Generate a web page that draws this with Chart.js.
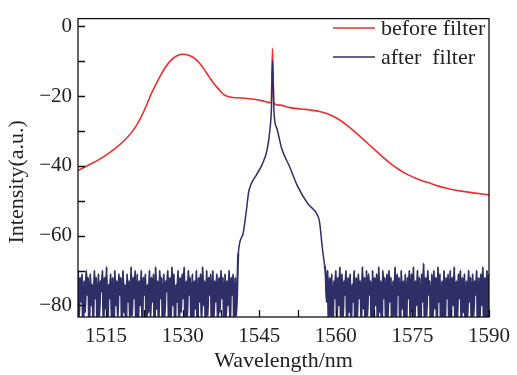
<!DOCTYPE html>
<html>
<head>
<meta charset="utf-8">
<script src="https://cdn.jsdelivr.net/npm/chart.js@4.4.1/dist/chart.umd.min.js"></script>
<style>
  html, body { margin: 0; padding: 0; background: #fff; }
  #wrap { width: 517px; height: 375px; }
</style>
</head>
<body>
<div id="wrap"><canvas id="spec" width="517" height="375"></canvas></div>
<script>
/* ── axis ticks ── */
const xTicks  = [1515, 1522.5, 1530, 1537.5, 1545, 1552.5, 1560, 1567.5, 1575, 1582.5, 1590];
const xLabels = [1515, 1530, 1545, 1560, 1575, 1590];
const yTicks  = [0, -10, -20, -30, -40, -50, -60, -70, -80];
const yLabels = [0, -20, -40, -60, -80];

/* ── before filter (ASE source) ── */
const redX = [1509.5, 1511.5, 1513.6, 1515.5, 1516.8, 1518.5, 1520.0, 1521.0, 1521.9, 1522.9,
              1523.8, 1524.8, 1525.7, 1526.6, 1527.6, 1528.7, 1529.9, 1531.2, 1532.6, 1533.9,
              1535.2, 1536.2, 1537.1, 1538.0, 1539.0, 1540.5, 1542.1, 1544.0, 1545.5, 1546.8,
              1547.35, 1547.6, 1547.85, 1549.0, 1551.0, 1553.2, 1555.0, 1557.0, 1558.6, 1560.1,
              1561.4, 1562.7, 1564.3, 1565.9, 1567.5, 1569.0, 1570.6, 1572.2, 1573.8, 1575.4,
              1577.0, 1578.5, 1580.1, 1581.7, 1583.3, 1584.9, 1587.3, 1590.0];
const redY = [-41.3, -39.8, -38.2, -36.4, -35.0, -32.8, -30.4, -28.3, -25.9, -22.7,
              -19.5, -16.6, -14.0, -11.8, -9.9, -8.6, -8.0, -8.3, -9.5, -11.7,
              -14.5, -16.6, -18.1, -19.5, -20.2, -20.5, -20.6, -20.9, -21.3, -21.8,
              -21.9, -6.3, -22.1, -22.6, -23.3, -23.7, -24.0, -24.5, -25.2, -26.3,
              -27.5, -29.0, -31.0, -33.1, -35.2, -37.2, -39.2, -40.9, -42.3, -43.4,
              -44.3, -45.0, -45.8, -46.4, -46.9, -47.3, -47.8, -48.3];

/* ── after filter: noise floor (sampled every 0.2 nm) + filtered line ── */
const noiseStep = 0.2;
const noiseLeftStart = 1509.5;
const noiseLeft = [
  -70,-84,-72,-79,-71,-90,-73,-82,-70,-77,-72,-88,-71,-80,-74,-86,-70,-78,-72,-91,
  -71,-83,-73,-76,-70,-87,-72,-81,-69,-89,-74,-78,-71,-85,-72,-92,-70,-80,-73,-84,
  -71,-77,-72,-88,-70,-82,-74,-90,-71,-79,-73,-86,-69,-83,-72,-78,-70,-91,-71,-85,
  -73,-80,-70,-87,-72,-77,-71,-89,-74,-82,-70,-84,-72,-79,-71,-92,-69,-81,-73,-86,
  -70,-78,-72,-90,-71,-83,-73,-76,-70,-88,-72,-85,-69,-80,-71,-91,-74,-79,-70,-87,
  -72,-82,-71,-78,-69,-89,-73,-84,-70,-77,-72,-90,-71,-86,-73,-81,-70,-92,-72,-79,
  -71,-85,-69,-80,-73,-88,-70,-83,-72,-77,-71,-91,-70,-84,-73,-79,-71,-87,-72,-82,
  -70,-78,-72,-89,-71,-84,-73,-80,-70,-86,-72,-77,-71,-90,-72,-83];
const coreX = [1540.9, 1541.8, 1542.5, 1542.9, 1543.4, 1544.4, 1545.6, 1546.6, 1547.1, 1547.4,
               1547.6, 1547.9, 1548.5, 1549.4, 1551.0, 1552.4, 1554.5, 1556.4, 1556.8, 1557.4, 1557.8];
const coreY = [-65.0, -59.6, -52.5, -47.7, -45.2, -42.7, -39.5, -35.0, -29.5, -23.1,
               -9.9, -24.9, -29.5, -35.0, -40.4, -45.5, -50.8, -54.1, -56.0, -64.1, -68.5];
const noiseRightStart = 1558.0;
const noiseRight = [
  -71,-79,-70,-88,-72,-83,-71,-91,-73,-78,-70,-85,-72,-80,-69,-89,-71,-84,-73,-77,
  -70,-90,-72,-82,-71,-87,-74,-79,-70,-92,-72,-84,-71,-78,-73,-86,-69,-81,-72,-89,
  -70,-83,-71,-77,-73,-90,-70,-85,-72,-80,-71,-88,-69,-82,-73,-91,-70,-78,-72,-86,
  -71,-84,-70,-79,-72,-89,-73,-83,-69,-87,-71,-77,-72,-92,-70,-81,-73,-85,-71,-90,
  -72,-78,-70,-86,-71,-82,-69,-89,-73,-80,-70,-84,-72,-91,-71,-79,-68,-87,-72,-83,
  -70,-77,-73,-90,-71,-85,-70,-81,-72,-88,-69,-79,-71,-92,-73,-84,-70,-86,-72,-78,
  -71,-89,-70,-83,-72,-80,-69,-91,-73,-85,-71,-78,-70,-87,-72,-82,-71,-90,-73,-84,
  -70,-79,-72,-88,-71,-83,-73,-77,-70,-91,-72,-85,-71,-80,-69,-89,-72,-84,-70,-86,
  -71];

const RED = '#ec2e2c', BLUE = '#2f2e66';
const SERIF = '"Liberation Serif", "DejaVu Serif", serif';
const coreFrom = coreX[0], coreTo = coreX[coreX.length - 1];

const redPts = redX.map((x, i) => ({ x, y: redY[i] }));
const bluePts = []
  .concat(noiseLeft.map((v, i) => ({ x: noiseLeftStart + i * noiseStep, y: v })))
  .concat(coreX.map((x, i) => ({ x, y: coreY[i] })))
  .concat(noiseRight.map((v, i) => ({ x: noiseRightStart + i * noiseStep, y: v })));

// box, inward ticks, legend and axis titles
const frame = {
  id: 'frame',
  afterDraw(chart) {
    const { ctx, chartArea: a, scales: { x, y } } = chart;
    ctx.save();
    ctx.strokeStyle = '#111';
    ctx.lineWidth = 1.3;
    ctx.strokeRect(a.left, a.top, a.right - a.left, a.bottom - a.top);
    ctx.beginPath();
    xTicks.forEach(v => {
      const px = Math.round(x.getPixelForValue(v)) + 0.5;
      ctx.moveTo(px, a.bottom); ctx.lineTo(px, a.bottom - 7);
    });
    yTicks.forEach(v => {
      const py = Math.round(y.getPixelForValue(v)) + 0.5;
      ctx.moveTo(a.left, py); ctx.lineTo(a.left + 7, py);
    });
    ctx.stroke();

    // legend
    ctx.font = '22px ' + SERIF;
    ctx.fillStyle = '#222';
    ctx.textBaseline = 'middle';
    ctx.textAlign = 'left';
    chart.data.datasets.forEach((ds, i) => {
      const ly = 28 + i * 29;
      ctx.strokeStyle = ds.borderColor;
      ctx.lineWidth = 1.5;
      ctx.beginPath(); ctx.moveTo(333, ly); ctx.lineTo(375, ly); ctx.stroke();
      ctx.fillText(ds.label, 381, ly + 1);
    });

    // axis titles
    ctx.textAlign = 'center';
    ctx.textBaseline = 'alphabetic';
    ctx.fillText('Wavelength/nm', (a.left + a.right) / 2, 367);
    ctx.translate(17, (a.top + a.bottom) / 2 + 14);
    ctx.rotate(-Math.PI / 2);
    ctx.textBaseline = 'middle';
    ctx.fillText('Intensity(a.u.)', 0, 0);
    ctx.restore();
  }
};

new Chart(document.getElementById('spec').getContext('2d'), {
  type: 'line',
  data: {
    datasets: [
      {
        label: 'before filter', data: redPts, order: 2,
        borderColor: RED, borderWidth: 1.6, pointRadius: 0,
        cubicInterpolationMode: 'monotone', fill: false
      },
      {
        label: 'after  filter', data: bluePts, order: 1,
        borderColor: BLUE, borderWidth: 1.5, pointRadius: 0,
        cubicInterpolationMode: 'monotone', fill: false,
        segment: {
          // noise floor drawn heavier so it reads as a dense band
          borderWidth: c => (c.p1.parsed.x <= coreFrom || c.p0.parsed.x >= coreTo) ? 2.1 : 1.5
        }
      }
    ]
  },
  options: {
    responsive: false, animation: false,
    layout: { padding: { top: 4, right: 15, left: 0, bottom: 0 } },
    plugins: { legend: { display: false }, tooltip: { enabled: false } },
    scales: {
      x: {
        type: 'linear', min: 1509.5, max: 1590,
        grid: { display: false, drawTicks: false },
        border: { display: false },
        afterBuildTicks: s => { s.ticks = xTicks.map(v => ({ value: v })); },
        afterFit: s => { s.height = 58; },
        ticks: {
          autoSkip: false, maxRotation: 0, padding: 7, color: '#222',
          font: { family: SERIF, size: 21 },
          callback: v => xLabels.includes(v) ? String(v) : ''
        }
      },
      y: {
        type: 'linear', min: -83.3, max: 2.2,
        grid: { display: false, drawTicks: false },
        border: { display: false },
        afterBuildTicks: s => { s.ticks = yTicks.map(v => ({ value: v })); },
        afterFit: s => { s.width = 78; },
        ticks: {
          autoSkip: false, padding: 6, color: '#222',
          font: { family: SERIF, size: 21 },
          callback: v => yLabels.includes(v) ? String(v).replace('-', '\u2212') : ''
        }
      }
    }
  },
  plugins: [frame]
});
</script>
</body>
</html>
